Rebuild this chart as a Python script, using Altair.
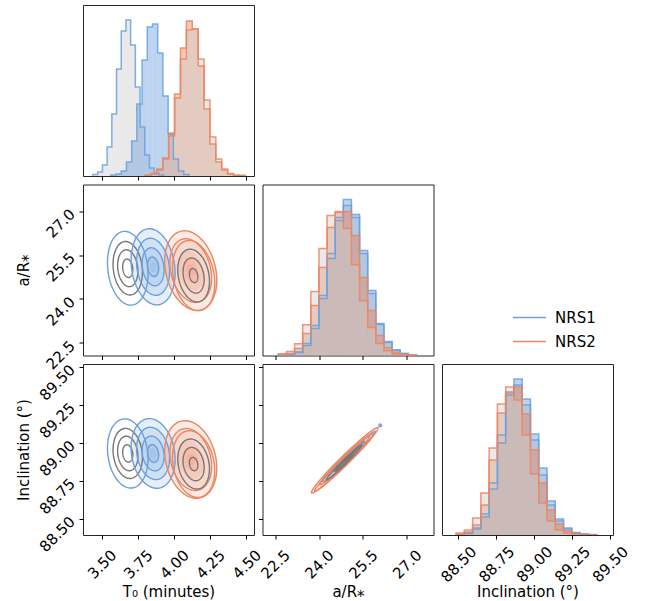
import numpy as np
import pandas as pd
import altair as alt

BLUE = "#6ba0dc"
ORANGE = "#ec8560"
GREY_LINE = "#777777"
GREY_FILL = "#cfcfcf"

SETS = ["A", "B", "C", "D"]
INSTRUMENT = {"A": "NRS1", "B": "NRS1", "C": "NRS2", "D": "NRS2"}
FILL_KEY = {"A": "grey", "B": "blue", "C": "orange", "D": "grey"}
SHADED = ["B", "C"]

T0_TICKS = [3.50, 3.75, 4.00, 4.25, 4.50]
AR_TICKS = [22.5, 24.0, 25.5, 27.0]
INC_TICKS = [88.50, 88.75, 89.00, 89.25, 89.50]
T0_DOMAIN = [3.371, 4.552]
AR_DOMAIN = [22.07, 27.91]
INC_DOMAIN = [88.392, 89.520]
LEGEND_LABELS = ["NRS1", "NRS2"]

# ---- 1D histograms (bin start, bin width, heights) ----
t0_start = {"A": 3.440, "B": 3.563, "C": 3.800, "D": 3.800}
t0_width = {"A": 0.0325, "B": 0.036, "C": 0.0407, "D": 0.0407}
t0_A = [1.5, 4, 11, 29, 62, 107, 145, 156, 131, 89, 49, 21, 8, 3, 1]
t0_B = [1, 2, 5, 14, 35, 72, 116, 149, 152, 123, 80, 42, 17, 5, 1.5]
t0_C = [0.7, 2.5, 7, 18, 43, 82, 128, 155, 147, 110, 67, 32, 14, 6, 2, 0.7, 0.4]
t0_D = [0.5, 2, 6, 17, 40, 78, 117, 146, 147, 117, 76, 39, 17, 7, 2.5, 0.8, 0.4]

ar_start = {"A": 22.61, "B": 22.61, "C": 22.61, "D": 22.61}
ar_width = {"A": 0.2775, "B": 0.2775, "C": 0.2775, "D": 0.2775}
ar_A = [0.3, 1, 3.5, 12, 30, 60, 102, 138, 150, 138, 102, 62, 31, 13, 5, 2, 0.5]
ar_B = [0.3, 1, 3, 10, 27, 57, 97, 135, 156, 141, 105, 65, 32, 14, 5.7, 2, 0.5]
ar_C = [0.5, 2, 7, 22, 50, 88, 128, 143, 144, 120, 78, 45, 20, 8, 3, 1, 0.3]
ar_D = [1.7, 4, 11.7, 30.7, 64, 107, 140, 144, 127, 90.7, 54.7, 28, 12, 4.7, 1.5, 0.5, 0.2]

inc_start = {"A": 88.485, "B": 88.485, "C": 88.485, "D": 88.485}
inc_width = {"A": 0.0545, "B": 0.0545, "C": 0.0545, "D": 0.0545}
inc_A = [0.6, 2, 7, 21, 52, 100, 143, 150, 130, 95, 60, 30, 14, 6, 2, 0.8, 0.3]
inc_B = [0.5, 1.5, 6, 18, 46, 92, 140, 156, 136, 101, 67, 34, 16, 7, 2.5, 1, 0.4]
inc_C = [0.5, 3, 10, 30, 75, 122, 142, 148, 121, 85, 52, 25, 11, 4, 1.5, 0.5, 0.2]
inc_D = [2, 5, 17, 42, 87, 131, 148, 135, 100, 61, 32, 14, 5, 2, 1, 0.3, 0.1]

# ---- 2D contours: centre x, centre y, sigma x, sigma y, correlation ----
t0ar_cx = [3.680, 3.855, 4.115, 4.135]
t0ar_cy = [25.05, 25.10, 24.97, 24.80]
t0ar_sx = [0.070, 0.076, 0.090, 0.073]
t0ar_sy = [0.63, 0.65, 0.68, 0.60]
t0ar_rho = [-0.15, -0.17, -0.24, -0.22]

t0inc_cx = [3.680, 3.855, 4.115, 4.135]
t0inc_cy = [88.93, 88.93, 88.89, 88.86]
t0inc_sx = [0.070, 0.076, 0.090, 0.073]
t0inc_sy = [0.114, 0.115, 0.128, 0.110]
t0inc_rho = [-0.15, -0.17, -0.22, -0.20]

arinc_cx = [25.02, 25.03, 24.88, 24.85]
arinc_cy = [88.92, 88.91, 88.885, 88.87]
arinc_sx = [0.42, 0.45, 0.57, 0.50]
arinc_sy = [0.080, 0.083, 0.108, 0.095]
arinc_rho = [0.985, 0.985, 0.982, 0.985]

# contour levels (radius in sigma units, colour key)
rings_t0 = {
    "A": [(0.5, "grey"), (1.0, "grey"), (1.45, "grey"), (2.0, "NRS1")],
    "B": [(0.5, "NRS1"), (1.0, "NRS1"), (1.5, "NRS1"), (2.0, "NRS1")],
    "C": [(1.6, "NRS2"), (2.0, "NRS2")],
    "D": [(0.4, "grey"), (1.0, "grey"), (1.5, "grey"), (2.0, "NRS2")],
}
rings_arinc = {
    "A": [(0.6, "grey"), (1.2, "grey")],
    "B": [(1.2, "NRS1"), (2.0, "NRS1")],
    "C": [(1.5, "NRS2"), (2.0, "NRS2")],
    "D": [(0.6, "grey"), (1.2, "grey"), (2.0, "NRS2")],
}
shade_levels = [0.3, 0.6, 1.0, 1.5, 2.0]

# lone sample drawn as a point in the a/R* - inclination panel
outlier_ar = [26.09]
outlier_inc = [89.115]

# ---- scales / legend ----
stroke_scale = alt.Scale(domain=["NRS1", "NRS2", "grey"], range=[BLUE, ORANGE, GREY_LINE])
fill_scale = alt.Scale(domain=["grey", "blue", "orange"], range=[GREY_FILL, BLUE, ORANGE])
fill_op_scale = alt.Scale(domain=["grey", "blue", "orange"], range=[0.45, 0.45, 0.35])

FS = 15
LEGEND = alt.Legend(orient="none", legendX=439, legendY=305, values=LEGEND_LABELS,
                    title=None, symbolType="M-3.3,0H3.3", symbolSize=100,
                    symbolStrokeWidth=1.5, symbolOpacity=1, labelFontSize=FS,
                    labelFont="DejaVu Sans", labelColor="black", labelOffset=18,
                    rowPadding=8, padding=0)

W = 171


def sc(dom):
    return alt.Scale(domain=dom, nice=False, zero=False)


def base_axis(ticks, labels):
    return dict(values=ticks, tickSize=4, domain=False, grid=False, labels=labels,
                labelFlush=False, labelOverlap=False, labelFontSize=FS, titleFontSize=FS,
                labelFont="DejaVu Sans", titleFont="DejaVu Sans", titleFontWeight="normal",
                labelColor="black", titleColor="black", tickColor="black")


def x_axis(ticks, fmt, labels, title):
    kw = base_axis(ticks, labels)
    if labels:
        kw.update(format=fmt, labelAngle=315, labelAlign="center", labelBaseline="middle",
                  labelPadding=25, title=title, titleY=49, titleBaseline="top")
    else:
        kw.update(title=None)
    return alt.Axis(**kw)


def y_axis(ticks, fmt, labels, title):
    kw = base_axis(ticks, labels)
    if labels:
        kw.update(format=fmt, labelAngle=315, labelAlign="right", labelBaseline="middle",
                  labelPadding=7, title=title, titleX=-55, titleY=W / 2,
                  titleBaseline="alphabetic", titleAngle=270)
    else:
        kw.update(title=None)
    return alt.Axis(**kw)


def diag(starts, widths, counts, dom, xax):
    rects, steps = [], []
    for s in SETS:
        st, w, hs = starts[s], widths[s], counts[s]
        edges = [st + i * w for i in range(len(hs) + 1)]
        for i, h in enumerate(hs):
            rects.append(dict(set=s, fkey=FILL_KEY[s], x=edges[i], x2=edges[i + 1], h=h, z=0))
        pts = [(edges[0], 0)]
        for i, h in enumerate(hs):
            pts += [(edges[i], h), (edges[i + 1], h)]
        pts.append((edges[-1], 0))
        for k, (a, b) in enumerate(pts):
            steps.append(dict(set=s, ckey=INSTRUMENT[s], x=a, y=b, o=k))
    ys = sc([0, 171])
    r = alt.Chart(pd.DataFrame(rects)).mark_rect(clip=True).encode(
        x=alt.X("x:Q", scale=sc(dom), axis=xax), x2="x2:Q",
        y=alt.Y("h:Q", scale=ys, axis=None), y2="z:Q",
        fill=alt.Fill("fkey:N", scale=fill_scale, legend=None),
        opacity=alt.Opacity("fkey:N", scale=fill_op_scale, legend=None),
    )
    l = alt.Chart(pd.DataFrame(steps)).mark_line(clip=True, strokeWidth=1.5, opacity=0.85).encode(
        x=alt.X("x:Q", scale=sc(dom), axis=xax),
        y=alt.Y("y:Q", scale=ys, axis=None),
        detail="set:N", order="o:Q",
        stroke=alt.Stroke("ckey:N", scale=stroke_scale, legend=LEGEND),
    )
    return alt.layer(r, l).properties(width=W, height=W)


def panel2d(cx, cy, sx, sy, rho, rings, xdom, ydom, xax, yax, pts=None):
    lines, areas = [], []
    for i, s in enumerate(SETS):
        for j, (rr, ck) in enumerate(rings[s]):
            th = np.linspace(0, 2 * np.pi, 121)
            xs = cx[i] + rr * sx[i] * np.cos(th)
            yv = cy[i] + rr * sy[i] * (rho[i] * np.cos(th) + np.sqrt(1 - rho[i] ** 2) * np.sin(th))
            for k, (a, b) in enumerate(zip(xs, yv)):
                lines.append(dict(ring=f"{s}{j}", ckey=ck, x=a, y=b, o=k))
        if s in SHADED:
            for j, rr in enumerate(shade_levels):
                u = rr * np.cos(np.linspace(np.pi, 0, 101))
                mid = cy[i] + rho[i] * sy[i] * u
                half = sy[i] * np.sqrt(1 - rho[i] ** 2) * np.sqrt(np.clip(rr ** 2 - u ** 2, 0, None))
                for a, m, h in zip(cx[i] + sx[i] * u, mid, half):
                    areas.append(dict(ring=f"{s}{j}", fkey=FILL_KEY[s], x=a, y=m - h, y2=m + h))
    xs_ = sc(xdom)
    ys_ = sc(ydom)
    ar = alt.Chart(pd.DataFrame(areas)).mark_area(clip=True, opacity=0.17).encode(
        x=alt.X("x:Q", scale=xs_, axis=xax), y=alt.Y("y:Q", scale=ys_, axis=yax), y2="y2:Q",
        detail="ring:N", fill=alt.Fill("fkey:N", scale=fill_scale, legend=None),
    )
    ln = alt.Chart(pd.DataFrame(lines)).mark_line(clip=True, strokeWidth=1.4).encode(
        x=alt.X("x:Q", scale=xs_, axis=xax), y=alt.Y("y:Q", scale=ys_, axis=yax),
        detail="ring:N", order="o:Q",
        stroke=alt.Stroke("ckey:N", scale=stroke_scale, legend=LEGEND),
    )
    layers = [ar, ln]
    if pts is not None:
        pt = alt.Chart(pts).mark_circle(clip=True, size=18, opacity=0.9, color=BLUE).encode(
            x=alt.X("x:Q", scale=xs_, axis=xax), y=alt.Y("y:Q", scale=ys_, axis=yax))
        layers.append(pt)
    return alt.layer(*layers).properties(width=W, height=W)


def empty():
    return alt.Chart(pd.DataFrame({"v": [0]})).mark_point(opacity=0).encode(
        x=alt.X("v:Q", axis=None), y=alt.Y("v:Q", axis=None)
    ).properties(width=W, height=W, view=alt.ViewBackground(strokeOpacity=0))


T0_TITLE = "T\u2080 (minutes)"
AR_TITLE = "a/R\u204e"
INC_TITLE = "Inclination (\u00b0)"

c11 = diag(t0_start, t0_width, {"A": t0_A, "B": t0_B, "C": t0_C, "D": t0_D}, T0_DOMAIN,
           x_axis(T0_TICKS, ".2f", False, None))
c21 = panel2d(t0ar_cx, t0ar_cy, t0ar_sx, t0ar_sy, t0ar_rho, rings_t0, T0_DOMAIN, AR_DOMAIN,
              x_axis(T0_TICKS, ".2f", False, None), y_axis(AR_TICKS, ".1f", True, AR_TITLE))
c22 = diag(ar_start, ar_width, {"A": ar_A, "B": ar_B, "C": ar_C, "D": ar_D}, AR_DOMAIN,
           x_axis(AR_TICKS, ".1f", False, None))
c31 = panel2d(t0inc_cx, t0inc_cy, t0inc_sx, t0inc_sy, t0inc_rho, rings_t0, T0_DOMAIN, INC_DOMAIN,
              x_axis(T0_TICKS, ".2f", True, T0_TITLE), y_axis(INC_TICKS, ".2f", True, INC_TITLE))
c32 = panel2d(arinc_cx, arinc_cy, arinc_sx, arinc_sy, arinc_rho, rings_arinc, AR_DOMAIN, INC_DOMAIN,
              x_axis(AR_TICKS, ".1f", True, AR_TITLE), y_axis(INC_TICKS, ".2f", False, None),
              pts=pd.DataFrame({"x": outlier_ar, "y": outlier_inc}))
c33 = diag(inc_start, inc_width, {"A": inc_A, "B": inc_B, "C": inc_C, "D": inc_D}, INC_DOMAIN,
           x_axis(INC_TICKS, ".2f", True, INC_TITLE))

chart = alt.concat(c11, empty(), empty(), c21, c22, empty(), c31, c32, c33,
                   columns=3, spacing=8.5, bounds="flush").properties(
    padding={"left": 15, "top": 4, "right": 0, "bottom": 0},
).configure_view(stroke="#262626", strokeWidth=1).configure_axis(
    labelFont="DejaVu Sans", titleFont="DejaVu Sans", labelFontSize=FS, titleFontSize=FS,
    titleFontWeight="normal", labelColor="black", titleColor="black", tickColor="black",
    tickWidth=1,
)

chart.save("out.html", embed_options={"renderer": "svg", "actions": False})
